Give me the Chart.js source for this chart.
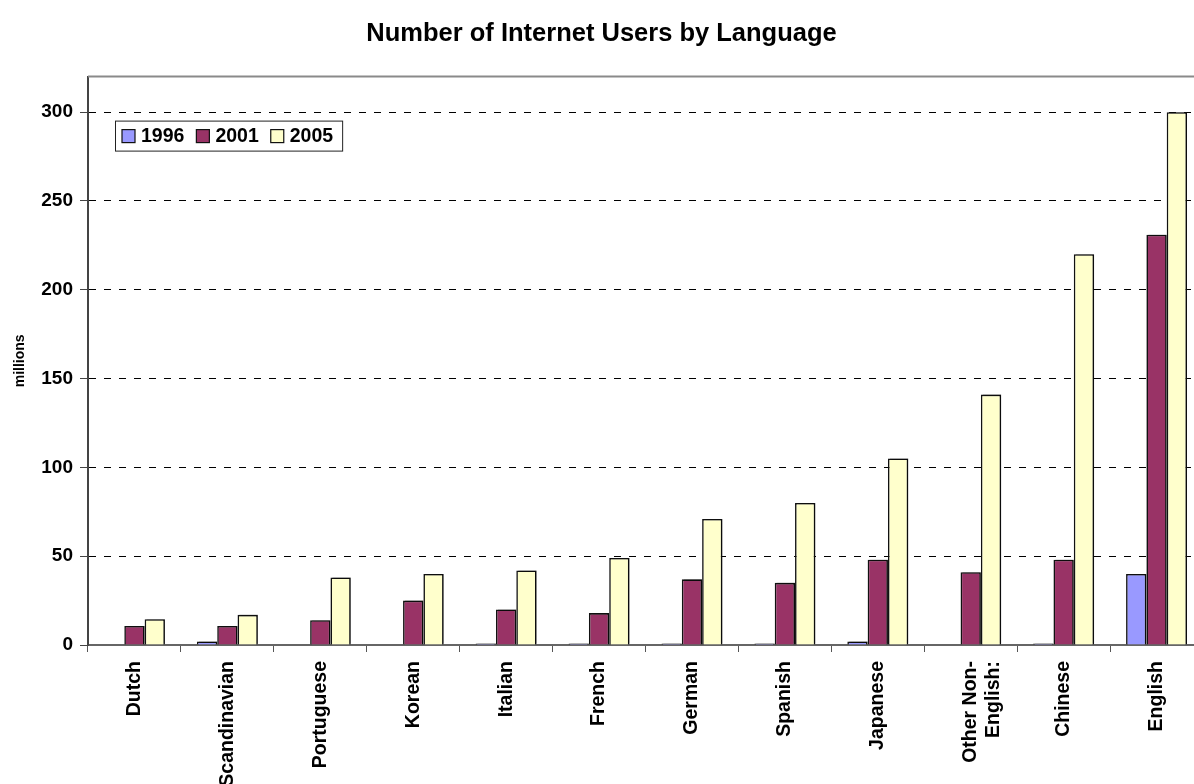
<!DOCTYPE html>
<html>
<head>
<meta charset="utf-8">
<script src="https://cdn.jsdelivr.net/npm/chart.js@4/dist/chart.umd.min.js"></script>
<style>
  html, body { margin: 0; padding: 0; background: #fff; overflow: hidden; }
  #wrap { width: 1206px; height: 784px; }
</style>
</head>
<body>
<div id="wrap"><canvas id="lang-bar" width="1206" height="784"></canvas></div>
<script>
const languages = ["Dutch", "Scandinavian", "Portuguese", "Korean", "Italian", "French",
    "German", "Spanish", "Japanese", ["Other Non-", "English:"], "Chinese", "English"];
const years = ["1996", "2001", "2005"];
const users1996 = [0, 2, 0, 0, 0.8, 0.8, 0.8, 0.8, 2, 0, 0.8, 40];
const users2001 = [10.7, 10.7, 14, 25, 20, 18, 37, 35, 48, 41, 48, 231];
const users2005 = [14.5, 17, 38, 40, 42, 49, 71, 80, 105, 141, 220, 300];
const yTicks = [0, 50, 100, 150, 200, 250, 300];
const colors = ["#9999FF", "#993366", "#FFFFCC"];

const FONT = "'Liberation Sans', Arial, sans-serif";

// plot frame top line, bar shadows and a boxed legend inside the plot
const frameLegend = {
    id: "frameLegend",
    beforeDatasetDraw(chart) {
        const ctx = chart.ctx;
        ctx.save();
        ctx.shadowColor = "rgba(0,0,0,0.3)";
        ctx.shadowOffsetX = 2;
        ctx.shadowOffsetY = -1;
        ctx.shadowBlur = 0;
    },
    afterDatasetDraw(chart) {
        chart.ctx.restore();
    },
    afterDraw(chart) {
        const { ctx, chartArea } = chart;
        ctx.save();
        ctx.strokeStyle = "#8a8a8a";
        ctx.lineWidth = 2;
        ctx.beginPath();
        ctx.moveTo(chartArea.left, chartArea.top);
        ctx.lineTo(chartArea.right, chartArea.top);
        ctx.stroke();

        const x0 = chartArea.left + 27, y0 = chartArea.top + 44;
        ctx.font = "bold 19.5px " + FONT;
        let w = 7;
        const items = chart.data.datasets.map(ds => {
            const tw = ctx.measureText(ds.label).width;
            const item = { ds, x: x0 + w };
            w += 13 + 6 + tw + 12;
            return item;
        });
        w -= 3;
        ctx.fillStyle = "#fff";
        ctx.fillRect(x0, y0, w, 30);
        ctx.strokeStyle = "#222";
        ctx.lineWidth = 1;
        ctx.strokeRect(x0 + 0.5, y0 + 0.5, w, 30);
        items.forEach(it => {
            ctx.fillStyle = it.ds.backgroundColor;
            ctx.fillRect(it.x, y0 + 9, 13, 13);
            ctx.strokeStyle = "#111";
            ctx.lineWidth = 1.2;
            ctx.strokeRect(it.x, y0 + 9, 13, 13);
            ctx.fillStyle = "#000";
            ctx.textBaseline = "middle";
            ctx.fillText(it.ds.label, it.x + 19, y0 + 16.5);
        });
        ctx.restore();
    }
};

new Chart(document.getElementById("lang-bar").getContext("2d"), {
    type: "bar",
    data: {
        labels: languages,
        datasets: [users1996, users2001, users2005].map((vals, i) => ({
            label: years[i],
            data: vals,
            backgroundColor: colors[i],
            borderColor: "#111",
            borderWidth: 1.6,
            borderSkipped: "bottom",
            barPercentage: 1,
            categoryPercentage: 0.656
        }))
    },
    options: {
        responsive: false,
        animation: false,
        layout: { padding: { left: 0, right: 3, top: 0, bottom: 0 } },
        plugins: {
            legend: { display: false },
            tooltip: { enabled: false },
            title: {
                display: true,
                text: "Number of Internet Users by Language",
                color: "#000",
                font: { family: FONT, size: 25.5, weight: "bold" },
                padding: { top: 19, bottom: 27 }
            }
        },
        scales: {
            x: {
                grid: {
                    offset: true,
                    drawOnChartArea: false,
                    drawTicks: true,
                    tickLength: 7,
                    color: "#555"
                },
                border: { color: "#666", width: 2 },
                ticks: {
                    autoSkip: false,
                    minRotation: 90,
                    maxRotation: 90,
                    padding: 9,
                    color: "#000",
                    font: { family: FONT, size: 19.5, weight: "bold" }
                },
                afterFit: scale => { scale.height = 139; }
            },
            y: {
                min: 0,
                max: 320,
                afterBuildTicks: axis => {
                    axis.ticks = yTicks.map(v => ({ value: v }));
                },
                grid: {
                    color: ctx => ctx.tick && ctx.tick.value === 0 ? "rgba(0,0,0,0)" : "#000",
                    lineWidth: 1,
                    tickLength: 8,
                    tickColor: "#444",
                    tickBorderDash: [0, 0]
                },
                border: { color: "#444", width: 2, dash: [7, 8] },
                ticks: {
                    padding: 7,
                    color: "#000",
                    font: { family: FONT, size: 19, weight: "bold" }
                },
                title: {
                    display: true,
                    text: "millions",
                    color: "#000",
                    font: { family: FONT, size: 14, weight: "bold" },
                    padding: { top: 12, bottom: 0 }
                },
                afterFit: scale => { scale.width = 88; }
            }
        }
    },
    plugins: [frameLegend]
});
</script>
</body>
</html>
